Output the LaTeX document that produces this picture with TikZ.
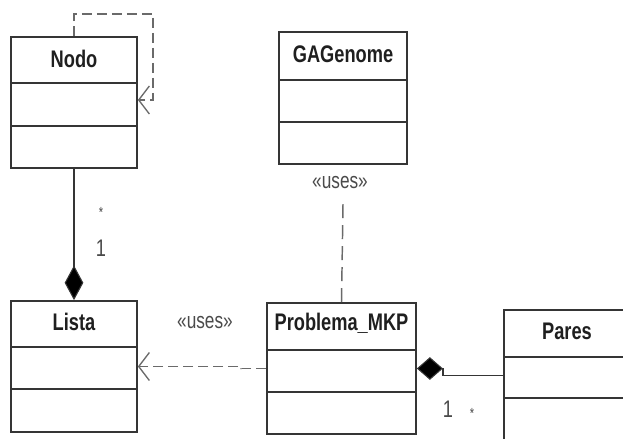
\documentclass[tikz,border=0pt]{standalone}
\usepackage{fontspec}
\setmainfont{Liberation Sans}[FakeStretch=0.76]
\usetikzlibrary{arrows.meta,calc}
\definecolor{boxline}{HTML}{353535}
\definecolor{depline}{HTML}{6A6A6A}
\definecolor{labeltext}{HTML}{4A4A4A}
\begin{document}
\begin{tikzpicture}[x=0.75pt,y=-0.75pt,
  classbox/.style={draw=boxline,line width=1.3pt,fill=white,rectangle,inner sep=0pt},
  divider/.style={draw=boxline,line width=1.3pt},
  classtitle/.style={font=\bfseries\fontsize{18}{20}\selectfont,text=black!88,inner sep=0pt,anchor=base},
  stereo/.style={font=\fontsize{17}{19}\selectfont,text=labeltext,inner sep=0pt,anchor=base},
  mult/.style={font=\fontsize{18}{20}\selectfont,text=labeltext,inner sep=0pt,anchor=base},
  multstar/.style={font=\fontsize{11}{12}\selectfont,text=labeltext,inner sep=0pt},
  openbarb/.style={-{Straight Barb[length=8pt,width=21pt,line width=1pt]}},
  depH/.style={draw=depline,line width=1.1pt,dash pattern=on 7.5pt off 3.75pt},
  depV/.style={draw=depline,line width=1.1pt,dash pattern=on 10.5pt off 5.25pt},
  comp/.style={draw=boxline,line width=1pt}]
\useasboundingbox (0,0) rectangle (623,438);
\clip (0,0) rectangle (623,438);
\fill[white] (0,0) rectangle (623,438);

% class boxes: header, attribute and operation compartments
\newcommand\classdividers[3]{%
  \draw[divider] ($(#1.north west)+(0,#2)$) -- ($(#1.north east)+(0,#2)$);
  \draw[divider] ($(#1.north west)+(0,#3)$) -- ($(#1.north east)+(0,#3)$);}

\node[classbox,minimum width=94.5pt,minimum height=98.25pt] (nodo) at (74,102.5) {};
\classdividers{nodo}{47}{90}
\node[classtitle] (nodoTitle) at ($(nodo.north)+(0,31)$) {Nodo};

\node[classbox,minimum width=94.5pt,minimum height=98.25pt] (lista) at (74,366.5) {};
\classdividers{lista}{47}{89}
\node[classtitle] (listaTitle) at ($(lista.north)+(0,30.5)$) {Lista};

\node[classbox,minimum width=96pt,minimum height=99pt] (gagenome) at (343,98) {};
\classdividers{gagenome}{49}{91}
\node[classtitle] (gagenomeTitle) at ($(gagenome.north)+(0,31)$) {GAGenome};

\node[classbox,minimum width=111.75pt,minimum height=98.25pt] (problema) at (341.5,368.5) {};
\classdividers{problema}{48}{90}
\node[classtitle] (problemaTitle) at ($(problema.north)+(0,28.5)$) {Problema\_MKP};

\node[classbox,minimum width=94.5pt,minimum height=98.25pt] (pares) at (567,375.5) {};
\classdividers{pares}{48}{89}
\node[classtitle] (paresTitle) at ($(pares.north)+(0,30)$) {Pares};

% self dependency of Nodo
\coordinate (loopCorner) at (153,14);
\draw[depH,openbarb] (nodo.north) |- (loopCorner) |- ($(nodo.east)+(0,-2.5)$);

% composition Lista <>-- Nodo
\draw[comp,-{Diamond[length=26pt,width=14pt,fill=black,line width=0.8pt]}] (nodo.south) -- (lista.north);
\node[multstar] (nodoStar) at (101,212) {*};
\node[mult] (listaOne) at (101,256) {1};

% Problema_MKP uses Lista
\draw[depH,openbarb] (problema.west) -- ++(-25,0) |- (lista.east);
\node[stereo] (usesLista) at (205,328) {«uses»};

% Problema_MKP uses GAGenome
\coordinate (gaEnd) at ($(gagenome.south)+(0,39)$);
\draw[depV] (problema.north) -- (gaEnd);
\node[stereo] (usesGa) at (340,189) {«uses»};

% composition Problema_MKP <>-- Pares
\draw[comp,-{Diamond[length=19.5pt,width=17pt,fill=black,line width=0.8pt]}]
  (pares.west) -| ($(problema.east)+(26,0)$) -- (problema.east);
\node[mult] (problemaOne) at (448,417) {1};
\node[multstar] (paresStar) at (472,413) {*};
\end{tikzpicture}
\end{document}
